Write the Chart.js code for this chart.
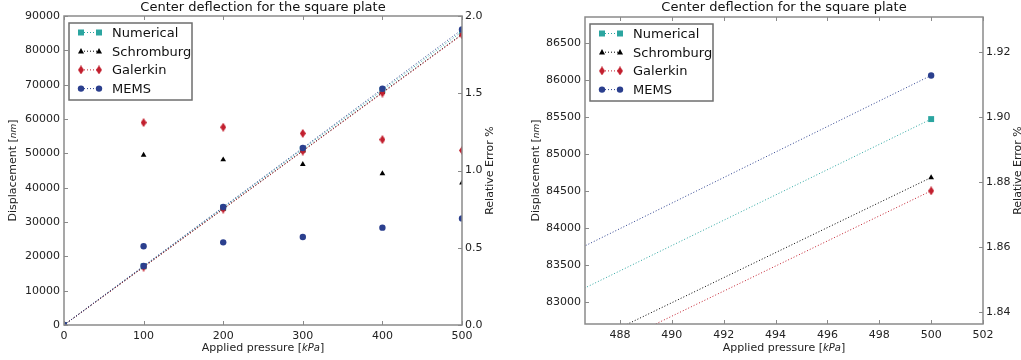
<!DOCTYPE html>
<html>
<head>
<meta charset="utf-8">
<script src="https://cdn.jsdelivr.net/npm/chart.js@4/dist/chart.umd.min.js"></script>
<style>
  html, body { margin: 0; padding: 0; background: #fff; }
  #wrap { position: relative; width: 1021px; height: 360px; overflow: hidden; }
  .box { position: absolute; top: 0; height: 360px; }
</style>
</head>
<body>
<div id="wrap">
  <div class="box" style="left:0;width:510px"><canvas id="full"></canvas></div>
  <div class="box" style="left:510px;width:511px"><canvas id="zoomed"></canvas></div>
</div>
<script>
// data
const pressure = [0, 100, 200, 300, 400, 500];
const numerical = [0, 17094, 34188, 51282, 68376, 85470];
const schromburg = [0, 16906, 33821, 50750, 67760, 84680];
const galerkin = [0, 16870, 33750, 50645, 67559, 84500];
const mems = [0, 17181, 34371, 51575, 68804, 86060];

const errPressure = [100, 200, 300, 400, 500];
const errSchromburg = [1.10, 1.07, 1.04, 0.98, 0.92];
const errGalerkin = [1.31, 1.28, 1.24, 1.20, 1.13];
const errMems = [0.51, 0.535, 0.57, 0.63, 0.69];

// tick labels
const fullXTicks = [0, 100, 200, 300, 400, 500];
const fullYTicks = [0, 10000, 20000, 30000, 40000, 50000, 60000, 70000, 80000, 90000];
const fullErrTicks = [0, 0.5, 1.0, 1.5, 2.0];
const zoomXTicks = [488, 490, 492, 494, 496, 498, 500, 502];
const zoomYTicks = [83000, 83500, 84000, 84500, 85000, 85500, 86000, 86500];
const zoomErrTicks = [1.84, 1.86, 1.88, 1.90, 1.92];

const seriesNames = ['Numerical', 'Schromburg', 'Galerkin', 'MEMS'];
const TITLE = 'Center deflection for the square plate';

const TEAL = '#2ba5a0', BLACK = '#000000', RED = '#c21f2e', BLUE = '#2b3f8e';
const SPINE = '#8a8a8a';
const FONT = "'DejaVu Sans', sans-serif";

// thin diamond marker like matplotlib 'd'
function thinDiamond(color) {
    const c = document.createElement('canvas');
    c.width = 6; c.height = 9;
    const g = c.getContext('2d');
    g.fillStyle = color;
    g.beginPath();
    g.moveTo(3, 0); g.lineTo(6, 4.5); g.lineTo(3, 9); g.lineTo(0, 4.5);
    g.closePath(); g.fill();
    return c;
}
const diamond = thinDiamond(RED);

function pts(xs, ys) { return xs.map((x, i) => ({ x: x, y: ys[i] })); }

const markers = [
    { color: TEAL, style: 'rect', radius: 4.2 },
    { color: BLACK, style: 'triangle', radius: 3.3 },
    { color: RED, style: diamond, radius: 4 },
    { color: BLUE, style: 'circle', radius: 3.2 }
];

function buildDatasets() {
    const disp = [numerical, schromburg, galerkin, mems];
    const out = disp.map((d, i) => ({
        label: seriesNames[i],
        data: pts(pressure, d),
        showLine: true,
        borderColor: markers[i].color,
        borderWidth: 1,
        borderDash: [1, 2],
        backgroundColor: markers[i].color,
        pointBackgroundColor: markers[i].color,
        pointBorderColor: markers[i].color,
        pointBorderWidth: 0,
        pointStyle: markers[i].style,
        pointRadius: markers[i].radius,
        yAxisID: 'y',
        order: 4 - i,
        clip: 0
    }));
    const errs = [errSchromburg, errGalerkin, errMems];
    errs.forEach((e, k) => {
        const m = markers[k + 1];
        out.push({
            label: 'err ' + seriesNames[k + 1],
            data: pts(errPressure, e),
            showLine: false,
            backgroundColor: m.color,
            pointBackgroundColor: m.color,
            pointBorderColor: m.color,
            pointBorderWidth: 0,
            pointStyle: m.style,
            pointRadius: m.radius,
            yAxisID: 'y2',
            order: 0,
            clip: 0
        });
    });
    return out;
}

function drawMarker(ctx, m, x, y) {
    ctx.save();
    ctx.fillStyle = m.color;
    ctx.beginPath();
    if (m.style === 'rect') {
        ctx.rect(x - 3, y - 3, 6, 6);
        ctx.fill();
    } else if (m.style === 'triangle') {
        ctx.moveTo(x, y - 3.2); ctx.lineTo(x + 3, y + 2.2); ctx.lineTo(x - 3, y + 2.2);
        ctx.closePath(); ctx.fill();
    } else if (m.style === 'circle') {
        ctx.arc(x, y, 3.2, 0, Math.PI * 2);
        ctx.fill();
    } else {
        ctx.drawImage(m.style, x - 3, y - 4.5);
    }
    ctx.restore();
}

function mixedText(ctx, parts, cx, cy) {
    let total = 0;
    parts.forEach(p => { ctx.font = p.font; total += ctx.measureText(p.text).width; });
    let x = cx - total / 2;
    parts.forEach(p => {
        ctx.font = p.font;
        ctx.fillText(p.text, x, cy);
        x += ctx.measureText(p.text).width;
    });
}

// spines, inward ticks, title, axis titles and legend
const decor = {
    id: 'decor',
    afterDraw(chart) {
        const ctx = chart.ctx;
        const a = chart.chartArea;
        const sx = chart.scales.x, sy = chart.scales.y, s2 = chart.scales.y2;
        ctx.save();
        // ticks
        ctx.strokeStyle = SPINE;
        ctx.lineWidth = 1;
        ctx.beginPath();
        sx.ticks.forEach(t => {
            const p = Math.round(sx.getPixelForValue(t.value)) + 0.5;
            ctx.moveTo(p, a.bottom); ctx.lineTo(p, a.bottom - 4);
            ctx.moveTo(p, a.top); ctx.lineTo(p, a.top + 4);
        });
        sy.ticks.forEach(t => {
            const p = Math.round(sy.getPixelForValue(t.value)) + 0.5;
            ctx.moveTo(a.left, p); ctx.lineTo(a.left + 4, p);
        });
        s2.ticks.forEach(t => {
            const p = Math.round(s2.getPixelForValue(t.value)) + 0.5;
            ctx.moveTo(a.right, p); ctx.lineTo(a.right - 4, p);
        });
        ctx.stroke();
        // spines
        ctx.lineWidth = 1.5;
        ctx.strokeRect(a.left, a.top, a.right - a.left, a.bottom - a.top);

        // title
        const cx = (a.left + a.right) / 2;
        ctx.fillStyle = '#111';
        ctx.textAlign = 'center';
        ctx.textBaseline = 'alphabetic';
        ctx.font = '13px ' + FONT;
        ctx.fillText(TITLE, cx, 11);

        // x title
        ctx.textAlign = 'left';
        ctx.fillStyle = '#222';
        mixedText(ctx, [
            { text: 'Applied pressure [', font: '11px ' + FONT },
            { text: 'kPa', font: 'italic 10px ' + FONT },
            { text: ']', font: '11px ' + FONT }
        ], cx, 351);

        // y titles
        const cy = (a.top + a.bottom) / 2;
        ctx.save();
        ctx.translate(chart.options.yTitleX, cy);
        ctx.rotate(-Math.PI / 2);
        mixedText(ctx, [
            { text: 'Displacement [', font: '11px ' + FONT },
            { text: 'nm', font: 'italic 9px ' + FONT },
            { text: ']', font: '11px ' + FONT }
        ], 0, 4);
        ctx.restore();
        ctx.save();
        ctx.translate(chart.options.y2TitleX, cy);
        ctx.rotate(-Math.PI / 2);
        mixedText(ctx, [{ text: 'Relative Error %', font: '11px ' + FONT }], 0, 4);
        ctx.restore();

        // legend
        const bx = a.left + 5, by = a.top + 7, bw = 123, bh = 77;
        ctx.fillStyle = '#fff';
        ctx.fillRect(bx, by, bw, bh);
        ctx.strokeStyle = '#6e6e6e';
        ctx.lineWidth = 1.5;
        ctx.strokeRect(bx, by, bw, bh);
        ctx.font = '13px ' + FONT;
        ctx.textBaseline = 'middle';
        seriesNames.forEach((name, i) => {
            const y = by + 9.5 + i * 18.7;
            const m = markers[i];
            ctx.strokeStyle = m.color;
            ctx.lineWidth = 1;
            ctx.setLineDash([1, 2]);
            ctx.beginPath();
            ctx.moveTo(bx + 12, y); ctx.lineTo(bx + 30, y);
            ctx.stroke();
            ctx.setLineDash([]);
            drawMarker(ctx, m, bx + 12, y);
            drawMarker(ctx, m, bx + 30, y);
            ctx.fillStyle = '#111';
            ctx.fillText(name, bx + 43, y + 1);
        });
        ctx.restore();
    }
};

function makeChart(id, cfg) {
    const tickFont = { family: FONT, size: 11 };
    const fixTicks = list => scale => { scale.ticks = list.map(v => ({ value: v })); };
    return new Chart(document.getElementById(id), {
        type: 'scatter',
        data: { datasets: buildDatasets() },
        options: {
            responsive: true,
            maintainAspectRatio: false,
            animation: false,
            devicePixelRatio: 1,
            yTitleX: cfg.yTitleX,
            y2TitleX: cfg.y2TitleX,
            layout: { padding: { top: cfg.top, left: 0, right: 0, bottom: 0 } },
            plugins: { legend: { display: false }, tooltip: { enabled: false }, title: { display: false } },
            scales: {
                x: {
                    type: 'linear', min: cfg.xMin, max: cfg.xMax,
                    afterBuildTicks: fixTicks(cfg.xTicks),
                    afterFit: s => { s.height = cfg.xHeight; },
                    grid: { display: false, drawTicks: false },
                    border: { display: false },
                    ticks: { font: tickFont, color: '#222', padding: 5, maxRotation: 0, autoSkip: false,
                             callback: v => String(v) }
                },
                y: {
                    type: 'linear', position: 'left', min: cfg.yMin, max: cfg.yMax,
                    afterBuildTicks: fixTicks(cfg.yTicks),
                    afterFit: s => { s.width = cfg.yWidth; },
                    grid: { display: false, drawTicks: false },
                    border: { display: false },
                    ticks: { font: tickFont, color: '#222', padding: 4, autoSkip: false,
                             callback: v => String(v) }
                },
                y2: {
                    type: 'linear', position: 'right', min: cfg.eMin, max: cfg.eMax,
                    afterBuildTicks: fixTicks(cfg.eTicks),
                    afterFit: s => { s.width = cfg.eWidth; },
                    grid: { display: false, drawTicks: false },
                    border: { display: false },
                    ticks: { font: tickFont, color: '#222', padding: 3, autoSkip: false,
                             callback: v => v.toFixed(cfg.eDigits) }
                }
            }
        },
        plugins: [decor]
    });
}

const fullChart = makeChart('full', {
    top: 16, xHeight: 35, yWidth: 64, eWidth: 48,
    xMin: 0, xMax: 500, xTicks: fullXTicks,
    yMin: 0, yMax: 90000, yTicks: fullYTicks,
    eMin: 0, eMax: 2, eTicks: fullErrTicks, eDigits: 1,
    yTitleX: 12, y2TitleX: 489
});

const zoomChart = makeChart('zoomed', {
    top: 17, xHeight: 36, yWidth: 75, eWidth: 38,
    xMin: 486.65, xMax: 502, xTicks: zoomXTicks,
    yMin: 82700, yMax: 86850, yTicks: zoomYTicks,
    eMin: 1.8363, eMax: 1.9307, eTicks: zoomErrTicks, eDigits: 2,
    yTitleX: 25, y2TitleX: 507
});
</script>
</body>
</html>
